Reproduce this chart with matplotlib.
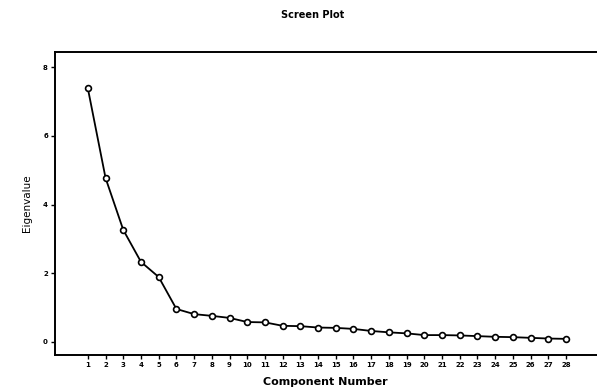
import numpy as np
import matplotlib
matplotlib.use("Agg")
import matplotlib.pyplot as plt

# eigenvalues
components = list(range(1, 29))
eigenvalues = [7.38, 4.77, 3.26, 2.33, 1.89, 0.96, 0.81, 0.76, 0.70, 0.58,
               0.57, 0.47, 0.46, 0.42, 0.41, 0.38, 0.32, 0.28, 0.25, 0.20,
               0.20, 0.19, 0.17, 0.15, 0.14, 0.12, 0.10, 0.09]
y_ticks = [0, 2, 4, 6, 8]

fig = plt.figure(figsize=(5.97, 3.90), dpi=100)
ax = fig.add_axes([0.092, 0.0897, 0.908, 0.777])

ax.plot(components, eigenvalues, color="black", linewidth=1.3,
        marker="o", markersize=4.2, markerfacecolor="white",
        markeredgecolor="black", markeredgewidth=1.2)

ax.set_xlim(-0.86, 29.75)
ax.set_ylim(-0.38, 8.44)
ax.set_xticks(components)
ax.set_xticklabels([str(c) for c in components], fontsize=5, fontweight="bold")
ax.set_yticks(y_ticks)
ax.set_yticklabels([str(t) for t in y_ticks], fontsize=5, fontweight="bold")
ax.tick_params(direction="out", length=3, width=1, pad=2)

for side in ["left", "top", "bottom"]:
    ax.spines[side].set_linewidth(1.4)
ax.spines["right"].set_visible(False)

fig.text(0.523, 0.962, "Screen Plot", ha="center", va="center",
         fontsize=7, fontweight="bold")
ax.set_xlabel("Component Number", fontsize=8, fontweight="bold", va="center")
ax.xaxis.set_label_coords(0.498, -0.089)
ax.set_ylabel("Eigenvalue", fontsize=7.5, labelpad=8)

fig.savefig("out.png", dpi=100)
